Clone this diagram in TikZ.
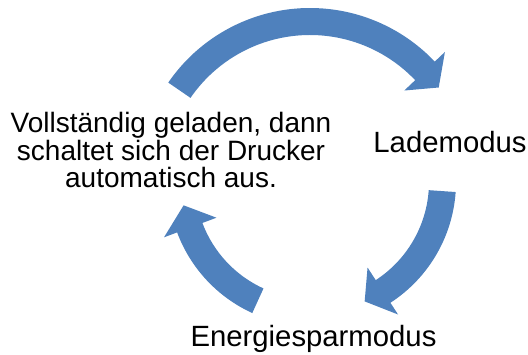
\documentclass[tikz,border=0pt]{standalone}
\usepackage{fontspec}
\setmainfont{Liberation Sans}
\definecolor{arrowblue}{RGB}{79,129,189}
\tikzset{
  cyc/.style={fill=arrowblue},
  lbl/.style={font=\fontsize{28}{27.7}\selectfont, inner sep=0pt, align=center, text=black},
  biglbl/.style={lbl, font=\fontsize{29.3}{29}\selectfont}
}
\begin{document}
\begin{tikzpicture}[x=1pt,y=1pt]
\useasboundingbox (0,0) rectangle (528,355);
% top arrow
\begin{scope}[shift={(310,175)}]
\fill[cyc] (145.5:172) arc[start angle=145.5, end angle=43.5, radius=172]
  -- (43.5:186) -- (35.7:158.5) -- (43.5:130) -- (43.5:145)
  arc[start angle=43.5, end angle=145.5, radius=145] -- cycle;
\end{scope}
\begin{scope}[shift={(312,173)}]
% right arrow
\fill[cyc] (-4:144) arc[start angle=-4, end angle=-57, radius=144]
  -- (-57:158) -- (-66.2:130.5) -- (-57:102) -- (-57:117)
  arc[start angle=-57, end angle=-4, radius=117] -- cycle;
% left arrow
\fill[cyc] (245.5:144) arc[start angle=245.5, end angle=200.5, radius=144]
  -- (200.5:158) -- (190.3:130.5) -- (200.5:102) -- (200.5:117)
  arc[start angle=200.5, end angle=245.5, radius=117] -- cycle;
\end{scope}
\node[lbl] (full) at (171,205) {Vollständig geladen, dann\\schaltet sich der Drucker\\automatisch aus.};
\node[biglbl, anchor=base] (lade) at (450,202) {Lademodus};
\node[biglbl, anchor=base] (spar) at (313.5,8) {Energiesparmodus};
\end{tikzpicture}
\end{document}
